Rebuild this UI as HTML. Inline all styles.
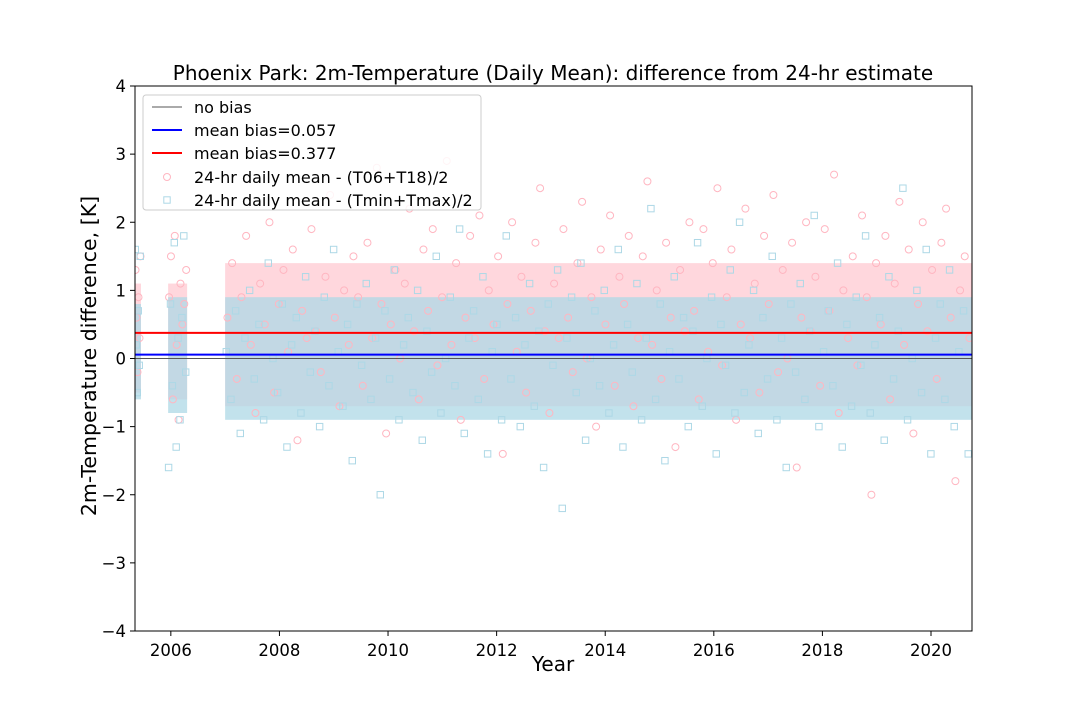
<!DOCTYPE html>
<html><head><meta charset="utf-8"><style>
body{margin:0;background:#fff;}
svg text{font-family:"DejaVu Sans","Liberation Sans",sans-serif;}
</style></head><body>
<svg id="c" width="1080" height="720" xmlns="http://www.w3.org/2000/svg"></svg>
<script>
const xTicks=[2006,2008,2010,2012,2014,2016,2018,2020];
const yTicks=[-4,-3,-2,-1,0,1,2,3,4];
const biasLines=[0,0.057,0.377];
const segStart=[2005.34,2005.95,2007.0];
const segEnd=[2005.45,2006.3,2020.75];
const bandPinkLo=[-0.5,-0.6,-0.7];
const bandPinkHi=[1.1,1.1,1.4];
const bandBlueLo=[-0.6,-0.8,-0.9];
const bandBlueHi=[0.8,0.9,0.9];
const pinkSeg0=[1.3,0.6,-0.2,0.9,0.3,1.5];
const blueSeg0=[1.6,0.2,-0.5,0.7,-0.1,1.5];
const pinkSeg1=[0.9,1.5,-0.6,1.8,0.2,-0.9,1.1,0.5,0.8,1.3];
const blueSeg1=[-1.6,0.8,-0.4,1.7,-1.3,0.3,-0.9,0.6,1.8,-0.2];
const pinkSeg2=[0.6,1.4,-0.3,0.9,1.8,0.2,-0.8,1.1,0.5,2.0,-0.5,0.8,1.3,0.1,1.6,-1.2,0.7,0.3,1.9,0.4,
-0.2,1.2,2.4,0.6,-0.7,1.0,0.2,1.5,0.9,-0.4,1.7,0.3,2.8,0.8,-1.1,0.5,1.3,0.0,1.1,2.2,
0.4,-0.6,1.6,0.7,1.9,-0.1,0.9,2.9,0.2,1.4,-0.9,0.6,1.8,0.3,2.1,-0.3,1.0,0.5,1.5,-1.4,
0.8,2.0,0.1,1.2,-0.5,0.7,1.7,2.5,0.4,-0.8,1.1,0.3,1.9,0.6,-0.2,1.4,2.3,0.0,0.9,-1.0,
1.6,0.5,2.1,-0.4,1.2,0.8,1.8,-0.7,0.3,1.5,2.6,0.2,1.0,-0.3,1.7,0.6,-1.3,1.3,0.4,2.0,
0.7,-0.6,1.9,0.1,1.4,2.5,-0.1,0.9,1.6,-0.9,0.5,2.2,0.3,1.1,-0.5,1.8,0.8,2.4,-0.2,1.3,
0.0,1.7,-1.6,0.6,2.0,0.4,1.2,-0.4,1.9,0.7,2.7,-0.8,1.0,0.3,1.5,-0.1,2.1,0.9,-2.0,1.4,
0.5,1.8,-0.6,1.1,2.3,0.2,1.6,-1.1,0.8,2.0,0.4,1.3,-0.3,1.7,2.2,0.6,-1.8,1.0,1.5,0.3];
const blueSeg2=[0.1,-0.6,0.7,-1.1,0.3,1.0,-0.3,0.5,-0.9,1.4,0.0,-0.5,0.8,-1.3,0.2,0.6,-0.8,1.2,-0.2,0.4,
-1.0,0.9,-0.4,1.6,0.1,-0.7,0.5,-1.5,0.8,-0.1,1.1,-0.6,0.3,-2.0,0.7,-0.3,1.3,-0.9,0.2,0.6,
-0.5,1.0,-1.2,0.4,-0.2,1.5,-0.8,0.0,0.9,-0.4,1.9,-1.1,0.3,0.7,-0.6,1.2,-1.4,0.1,0.5,-0.9,
1.8,-0.3,0.6,-1.0,0.2,1.1,-0.7,0.4,-1.6,0.8,-0.1,1.3,-2.2,0.3,0.9,-0.5,1.4,-1.2,0.0,0.7,
-0.4,1.0,-0.8,0.2,1.6,-1.3,0.5,-0.2,1.1,-0.9,0.3,2.2,-0.6,0.8,-1.5,0.1,1.2,-0.3,0.6,-1.0,
0.4,1.7,-0.7,0.0,0.9,-1.4,0.5,-0.1,1.3,-0.8,2.0,-0.5,0.2,1.0,-1.1,0.6,-0.3,1.5,-0.9,0.3,
-1.6,0.8,-0.2,1.1,-0.6,0.4,2.1,-1.0,0.1,0.7,-0.4,1.4,-1.3,0.5,-0.7,0.9,-0.1,1.8,-0.8,0.2,
0.6,-1.2,1.2,-0.3,0.4,2.5,-0.9,0.0,1.0,-0.5,1.6,-1.4,0.3,0.8,-0.6,1.3,-1.0,0.1,0.7,-1.4];
const pinkSegs=[pinkSeg0,pinkSeg1,pinkSeg2];
const blueSegs=[blueSeg0,blueSeg1,blueSeg2];

const L=135,R=972,T=86,B=631,X0=2005.34,X1=2020.755,Y0=-4,Y1=4;
const sx=v=>L+(v-X0)/(X1-X0)*(R-L);
const sy=v=>B-(v-Y0)/(Y1-Y0)*(B-T);
const svg=document.getElementById('c');
const NS='http://www.w3.org/2000/svg';
function mk(tag,attrs,parent){const e=document.createElementNS(NS,tag);for(const k in attrs)e.setAttribute(k,attrs[k]);(parent||svg).appendChild(e);return e;}

const defs=mk('defs',{});
const cp=mk('clipPath',{id:'pc'},defs);mk('rect',{x:L,y:T,width:R-L,height:B-T},cp);
const plot=mk('g',{'clip-path':'url(#pc)'});



for(let s=0;s<segStart.length;s++){
  const pb=mk('rect',{x:sx(segStart[s]),y:sy(bandPinkHi[s]),width:sx(segEnd[s])-sx(segStart[s]),height:sy(bandPinkLo[s])-sy(bandPinkHi[s]),fill:'#ffb6c1','fill-opacity':0.55},plot);
  
  
  const bb=mk('rect',{x:sx(segStart[s]),y:sy(bandBlueHi[s]),width:sx(segEnd[s])-sx(segStart[s]),height:sy(bandBlueLo[s])-sy(bandBlueHi[s]),fill:'#add8e6','fill-opacity':0.75},plot);
  
  
}
for(let s=0;s<segStart.length;s++){
  const pv=pinkSegs[s],bv=blueSegs[s];
  for(let i=0;i<pv.length;i++){
    const x=segStart[s]+(i+0.5)*(segEnd[s]-segStart[s])/pv.length;
    const c=mk('circle',{cx:sx(x),cy:sy(pv[i]),r:3.5,fill:'none',stroke:'#ffb6c1','stroke-width':1},plot);
    
    
  }
  for(let i=0;i<bv.length;i++){
    const x=segStart[s]+(i+0.25)*(segEnd[s]-segStart[s])/bv.length;
    const r=mk('rect',{x:sx(x)-3.2,y:sy(bv[i])-3.2,width:6.4,height:6.4,fill:'none',stroke:'#add8e6','stroke-width':1},plot);
    
    
  }
}
const lc=['#555','#0000ff','#ff0000'],lw=[1,2,2],ln=['no-bias-line','mean-bias-blue-line','mean-bias-red-line'];
for(let i=0;i<biasLines.length;i++){
  const l=mk('line',{x1:L,x2:R,y1:sy(biasLines[i]),y2:sy(biasLines[i]),stroke:lc[i],'stroke-width':lw[i]},plot);
  
  
}
const frame=mk('rect',{x:L,y:T,width:R-L,height:B-T,fill:'none',stroke:'#000','stroke-width':1});


xTicks.forEach(t=>{
  mk('line',{x1:sx(t),x2:sx(t),y1:B,y2:B+5,stroke:'#000'});
  const tx=mk('text',{x:sx(t),y:B+25,'font-size':16.5,'text-anchor':'middle'});tx.textContent=t;
  
  
});
yTicks.forEach(t=>{
  mk('line',{x1:L-5,x2:L,y1:sy(t),y2:sy(t),stroke:'#000'});
  const tx=mk('text',{x:L-9,y:sy(t)+6,'font-size':16.5,'text-anchor':'end'});tx.textContent=(t<0?'\u2212'+(-t):t);
  
  
});
</script>
<svg width="1080" height="720" style="position:absolute;left:0;top:0" xmlns="http://www.w3.org/2000/svg">
<text x="553" y="80" font-size="20" text-anchor="middle" font-family="DejaVu Sans, sans-serif">Phoenix Park: 2m-Temperature (Daily Mean): difference from 24-hr estimate</text>
<text x="553" y="671" font-size="20" text-anchor="middle" font-family="DejaVu Sans, sans-serif">Year</text>
<text transform="translate(96,356) rotate(-90)" font-size="20.5" text-anchor="middle" font-family="DejaVu Sans, sans-serif">2m-Temperature difference, [K]</text>
<g font-family="DejaVu Sans, sans-serif" font-size="16">
<rect x="143" y="95" width="338" height="115" rx="3" fill="#fff" fill-opacity="0.85" stroke="#ccc"/>
<line x1="152" x2="182" y1="107" y2="107" stroke="#555"/><text x="194" y="113">no bias</text>
<line x1="152" x2="182" y1="130" y2="130" stroke="#0000ff" stroke-width="2"/><text x="194" y="136">mean bias=0.057</text>
<line x1="152" x2="182" y1="153" y2="153" stroke="#ff0000" stroke-width="2"/><text x="194" y="159">mean bias=0.377</text>
<circle cx="167" cy="177" r="3.5" fill="none" stroke="#ffb6c1"/><text x="194" y="183">24-hr daily mean - (T06+T18)/2</text>
<rect x="163.8" y="196.8" width="6.4" height="6.4" fill="none" stroke="#add8e6"/><text x="194" y="206">24-hr daily mean - (Tmin+Tmax)/2</text>
</g>
</svg>
</body></html>
